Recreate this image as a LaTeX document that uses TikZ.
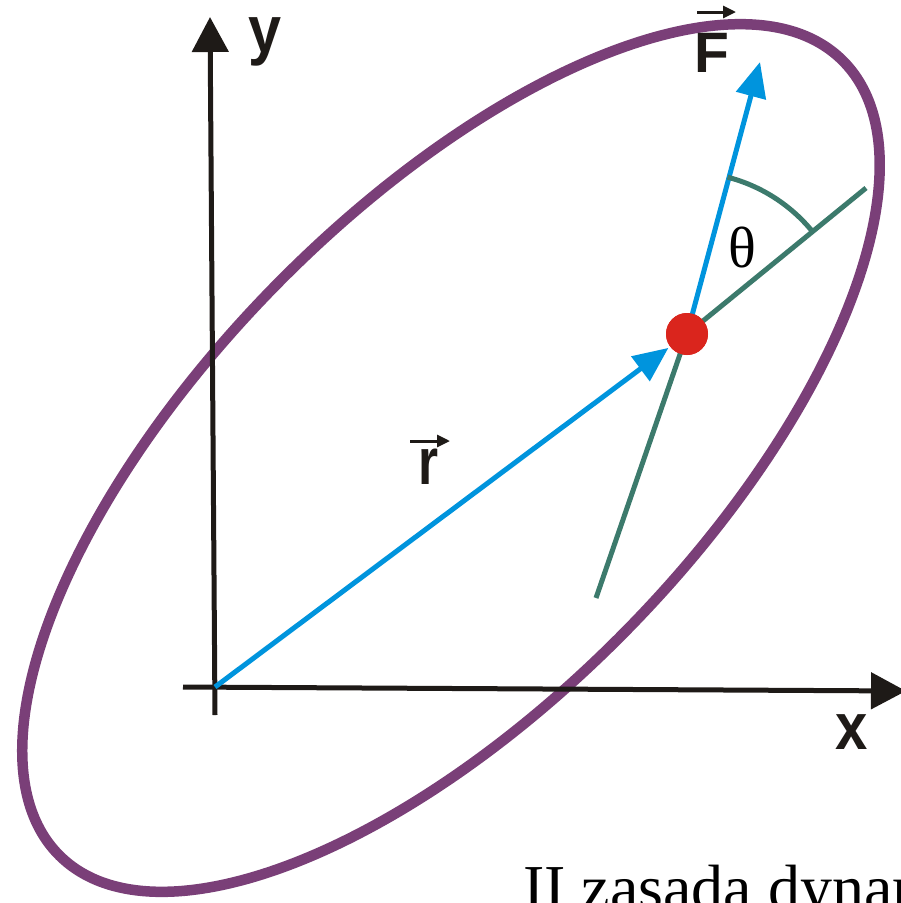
\documentclass[tikz,border=0pt]{standalone}
\usepackage{fontspec}
\setmainfont{Liberation Serif}
\newfontfamily\labfont{Liberation Sans}
\usetikzlibrary{arrows.meta,calc}
\definecolor{orbit}{HTML}{7A3F78}
\definecolor{vecblue}{HTML}{0094DD}
\definecolor{linegreen}{HTML}{3C7A6C}
\definecolor{dotred}{HTML}{DA251D}
\definecolor{axisblack}{HTML}{1E1A17}
\tikzset{
  axisline/.style={draw=axisblack, line width=5pt, -{Triangle[length=35pt,width=36pt]}},
  orbitline/.style={draw=orbit, line width=10.5pt},
  vecline/.style={draw=vecblue, line width=5pt, -{Triangle[length=35pt,width=30pt]}},
  greenline/.style={draw=linegreen, line width=5pt},
  veclabel/.style={inner sep=0pt, text=axisblack, font=\labfont\bfseries\fontsize{66}{66}\selectfont},
  overarrow/.style={draw=axisblack, line width=3pt, -{Triangle[length=13pt,width=12pt]}},
}
\begin{document}
\begin{tikzpicture}[x=1pt,y=-1pt]
\useasboundingbox (0,0) rectangle (901,903);
\clip (0,0) rectangle (901,903);
% orbit
\coordinate (C) at (451,458);
\draw[orbitline, rotate around={45.5:(C)}] (C) ellipse[x radius=558, y radius=246];
% axes
\coordinate (O) at (215,687);
\coordinate (xl) at (183,687);
\coordinate (xr) at (906,691);
\coordinate (yb) at (215,715);
\coordinate (yt) at (210,17);
\draw[axisline] (xl) -- (xr);
\draw[axisline] (yb) -- (yt);
\node[veclabel, xscale=0.88] (xlab) at (852,732) {x};
\node[veclabel, xscale=0.9] (ylab) at (265,42) {y};
% point
\node[circle, fill=dotred, minimum size=42pt, inner sep=0pt] (P) at (687,334) {};
\coordinate (G1) at (866,188);
\coordinate (G2) at (596,598);
\coordinate (Ft) at (760,62);
\draw[greenline] (P.center) -- (G1);
\draw[greenline] (P.center) -- (G2);
\draw[vecline] (P.center) -- (Ft);
\draw[greenline] ($(P)+(-75.5:162)$) arc[start angle=-75.5, end angle=-39.5, radius=162];
\draw[vecline, shorten >=2pt] (O) -- (P);
\node[circle, fill=dotred, minimum size=42pt, inner sep=0pt] at (P) {};
% labels
\node[veclabel, font=\labfont\bfseries\fontsize{57}{57}\selectfont] (Flab) at (712,53) {F};
\coordinate (Fa1) at (697,12);
\coordinate (Fa2) at (736,12);
\draw[overarrow] (Fa1) -- (Fa2);
\node[veclabel, xscale=0.78] (rlab) at (429,467) {r};
\coordinate (ra1) at (410,441);
\coordinate (ra2) at (450,441);
\draw[overarrow] (ra1) -- (ra2);
\node[inner sep=0pt, font=\fontsize{58}{58}\selectfont] (th) at (742,247) {θ};
\node[inner sep=0pt, anchor=base west, font=\fontsize{64}{64}\selectfont] (title) at (523,909) {II zasada dynam};
\end{tikzpicture}
\end{document}
